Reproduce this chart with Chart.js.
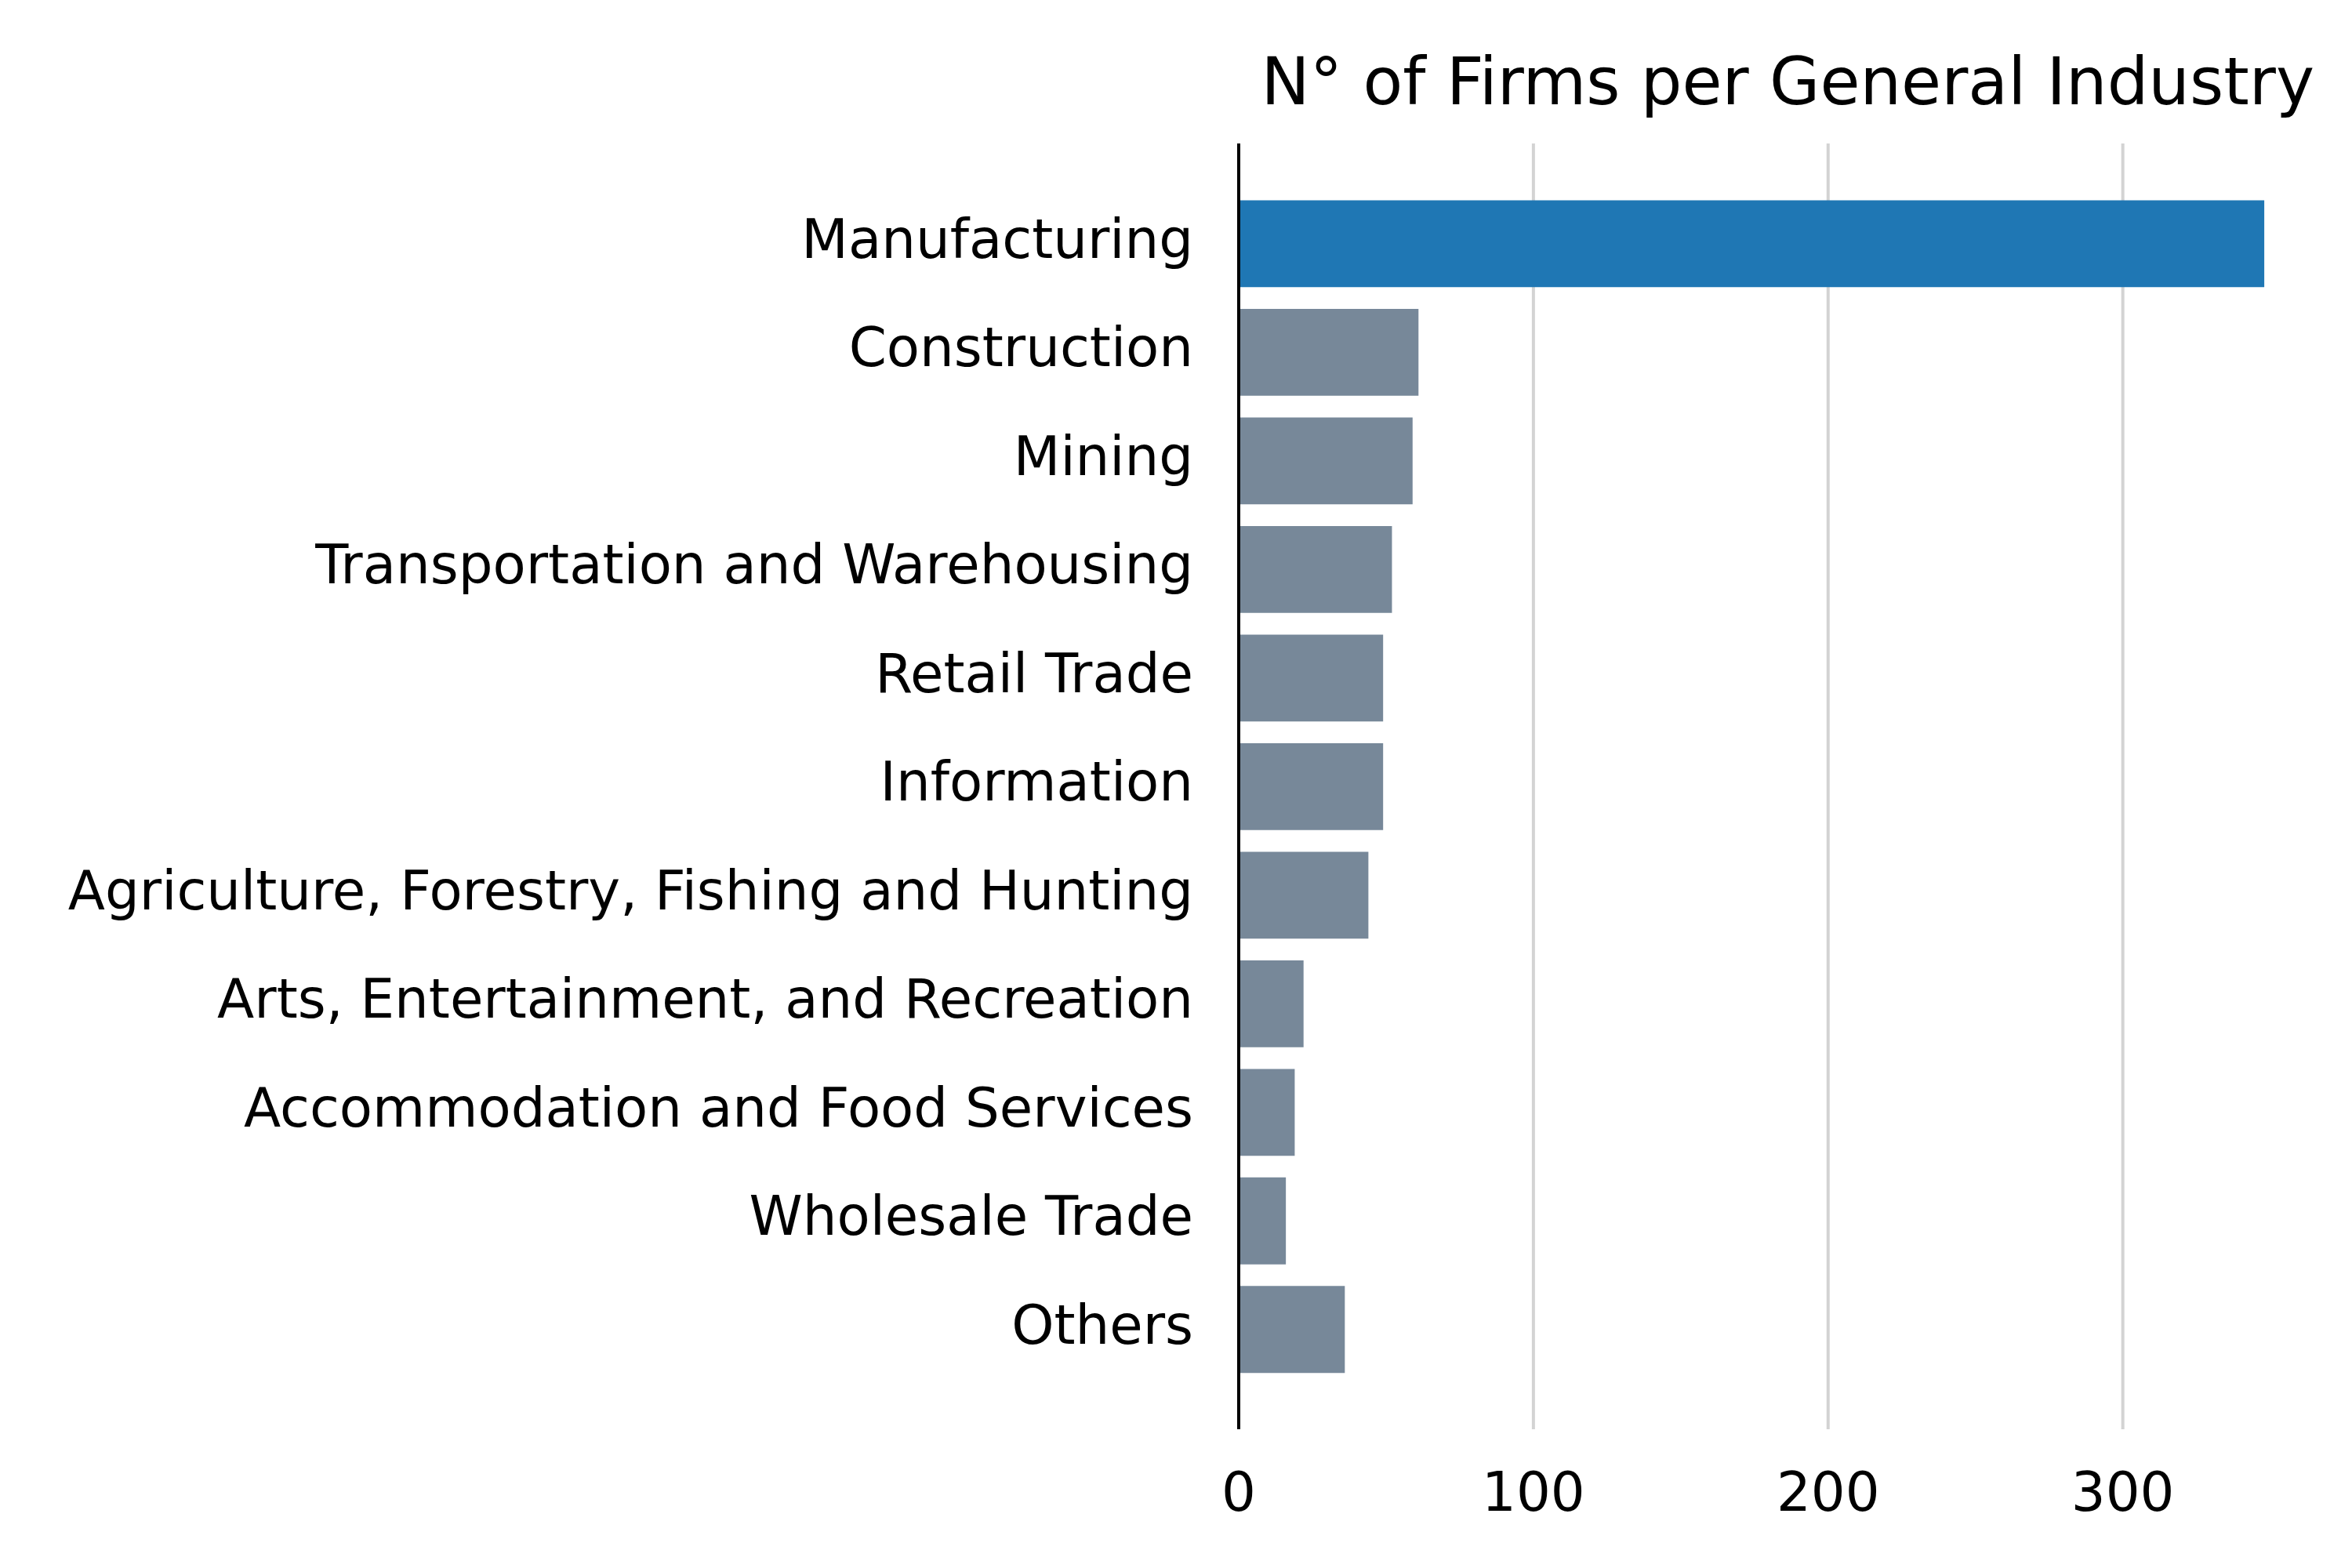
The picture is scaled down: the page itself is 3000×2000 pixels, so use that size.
<!DOCTYPE html>
<html>
<head>
<meta charset="utf-8">
<script src="https://cdn.jsdelivr.net/npm/chart.js@4.4.0/dist/chart.umd.min.js"></script>
<style>
  html, body { margin: 0; padding: 0; background: #fff; }
  #wrap { width: 3000px; height: 2000px; }
</style>
</head>
<body>
<div id="wrap"><canvas id="chart" width="3000" height="2000"></canvas></div>
<script>
// Data
const industries = [
    'Manufacturing', 'Construction', 'Mining', 'Transportation and Warehousing',
    'Retail Trade', 'Information', 'Agriculture, Forestry, Fishing and Hunting',
    'Arts, Entertainment, and Recreation', 'Accommodation and Food Services',
    'Wholesale Trade', 'Others'
];
const firmCounts = [348, 61, 59, 52, 49, 49, 44, 22, 19, 16, 36];
const xTicks = [0, 100, 200, 300];

const barColors = industries.map((_, i) => i === 0 ? '#1f77b4' : '#778899');

const font = "'DejaVu Sans', sans-serif";

// Axis frame extends a bit past the bars, like matplotlib's margins
const frameTop = 183;
const frameBottom = 1823;

const gridPlugin = {
    id: 'gridLines',
    beforeDatasetsDraw(chart) {
        const ctx = chart.ctx;
        const xs = chart.scales.x;
        ctx.save();
        xTicks.forEach(v => {
            if (v === 0) return;
            const px = xs.getPixelForValue(v);
            ctx.strokeStyle = '#d3d3d3';
            ctx.lineWidth = 4;
            ctx.beginPath();
            ctx.moveTo(px, frameTop);
            ctx.lineTo(px, frameBottom);
            ctx.stroke();
        });
        ctx.restore();
    },
    afterDatasetsDraw(chart) {
        const ctx = chart.ctx;
        const px = chart.scales.x.getPixelForValue(0);
        ctx.save();
        ctx.strokeStyle = '#000';
        ctx.lineWidth = 4;
        ctx.beginPath();
        ctx.moveTo(px, frameTop);
        ctx.lineTo(px, frameBottom);
        ctx.stroke();
        ctx.restore();
    }
};

new Chart(document.getElementById('chart'), {
    type: 'bar',
    data: {
        labels: industries,
        datasets: [{
            data: firmCounts,
            backgroundColor: barColors,
            barPercentage: 0.8,
            categoryPercentage: 1.0
        }]
    },
    plugins: [gridPlugin],
    options: {
        indexAxis: 'y',
        responsive: false,
        devicePixelRatio: 1,
        animation: false,
        layout: { padding: { left: 0, right: 48, top: 0, bottom: 0 } },
        plugins: {
            legend: { display: false },
            tooltip: { enabled: false },
            title: {
                display: true,
                align: 'end',
                text: 'N° of Firms per General Industry',
                color: '#000',
                font: { family: font, size: 83, weight: 'normal' },
                padding: { top: 62, bottom: 80 }
            }
        },
        scales: {
            x: {
                min: 0,
                max: 365,
                afterBuildTicks: scale => { scale.ticks = xTicks.map(v => ({ value: v })); },
                afterFit: scale => { scale.height = 235; },
                border: { display: false },
                grid: { display: false },
                ticks: {
                    color: '#000',
                    padding: 95,
                    font: { family: font, size: 69 }
                }
            },
            y: {
                afterFit: scale => { scale.width = 1580; },
                border: { display: false },
                grid: { display: false },
                ticks: {
                    color: '#000',
                    padding: 50,
                    font: { family: font, size: 69 }
                }
            }
        }
    }
});
</script>
</body>
</html>
